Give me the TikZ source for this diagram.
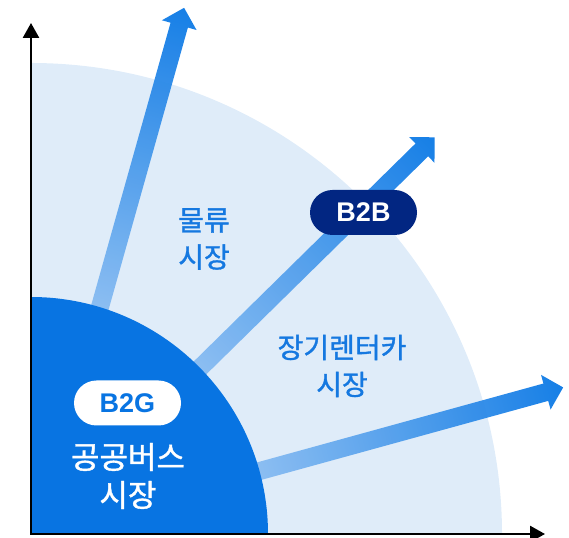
\documentclass[tikz,border=0pt]{standalone}
\usepackage{fontspec}
\setmainfont{Noto Sans CJK KR}
\newfontfamily\kr{Noto Sans CJK KR}[FakeBold=1.2]
\newfontfamily\lat{Liberation Sans}
\usetikzlibrary{arrows.meta}
\definecolor{lightbg}{RGB}{223,236,249}
\definecolor{diskblue}{RGB}{8,116,226}
\definecolor{navy}{RGB}{2,38,130}
\definecolor{labelblue}{RGB}{21,120,224}
\definecolor{arrowlight}{RGB}{140,190,242}
\definecolor{arrowdark}{RGB}{10,120,229}
\tikzset{
  pill/.style={rounded corners=22.5pt, minimum width=107pt, minimum height=45pt, inner sep=0pt,
    font=\lat\bfseries\fontsize{27}{30}\selectfont},
  marketlabel/.style={align=center, inner sep=0pt, font=\kr\fontsize{28}{37}\selectfont},
  axisline/.style={line width=2.6pt, {Triangle[length=15pt,width=16pt]}-{Triangle[length=15pt,width=16pt]}},
}
% growth arrow: #1 angle, #2 length, #3 lateral offset
\newcommand{\growtharrow}[3]{%
  \begin{scope}[transform canvas={rotate=#1}]
    \shade[left color=arrowlight, right color=arrowdark, opacity=0.95]
      (225,{#3-9}) -- ({#2-18},{#3-9}) -- ({#2-18},{#3-18}) -- (#2,#3)
      -- ({#2-18},{#3+18}) -- ({#2-18},{#3+9}) -- (225,{#3+9}) -- cycle;
  \end{scope}}
\begin{document}
\begin{tikzpicture}[x=1pt,y=1pt]
  \useasboundingbox (-31,-3) rectangle (538,534);
  % outer market region
  \fill[lightbg] (0,0) -- (471,0) arc[start angle=0, end angle=90, radius=471] -- cycle;
  % growth arrows
  \growtharrow{74.3}{548}{-5}
  \growtharrow{44.5}{566}{0}
  \growtharrow{15.4}{552}{0}
  % inner public market region
  \fill[diskblue] (0,0) -- (237,0) arc[start angle=0, end angle=90, radius=237] -- cycle;
  % axes
  \coordinate (ytip) at (0,511);
  \coordinate (orig) at (0,0);
  \coordinate (xtip) at (514,0);
  \draw[axisline] (ytip) -- (orig) -- (xtip);
  % labels
  \node[marketlabel, text=labelblue] (logi) at (173,295) {물류\\시장};
  \node[marketlabel, text=labelblue] (rent) at (311,168) {장기렌터카\\시장};
  \node[marketlabel, text=white, font=\kr\fontsize{31}{38}\selectfont] (bus) at (97,58) {공공버스\\시장};
  \node[pill, fill=white, text=diskblue] (b2g) at (96.5,131) {B2G};
  \node[pill, fill=navy, text=white] (b2b) at (332.5,321.5) {B2B};
\end{tikzpicture}
\end{document}
